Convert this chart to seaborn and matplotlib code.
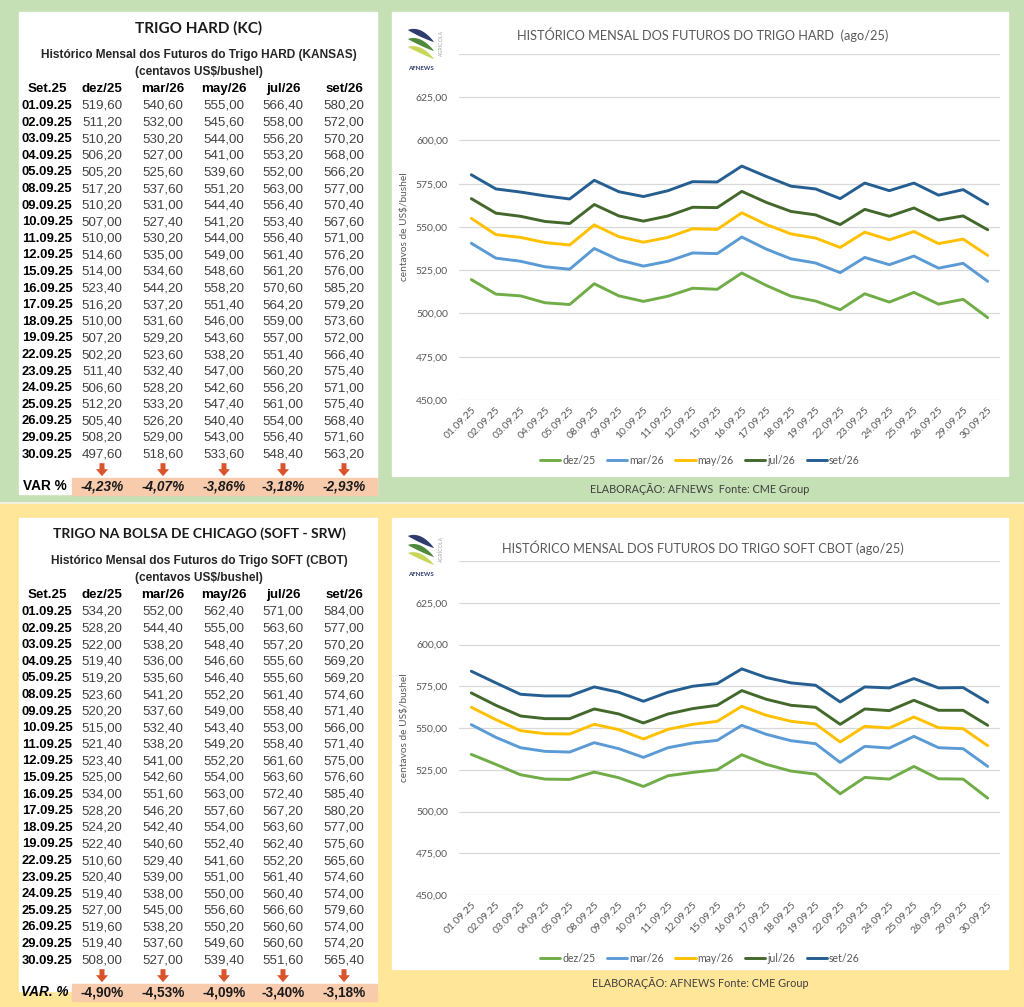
import numpy as np
import pandas as pd
import matplotlib
matplotlib.use("Agg")
import matplotlib.pyplot as plt
import matplotlib.patches as mpatches
import seaborn as sns

# ---- data ----
datas = ["01.09.25", "02.09.25", "03.09.25", "04.09.25", "05.09.25", "08.09.25",
         "09.09.25", "10.09.25", "11.09.25", "12.09.25", "15.09.25", "16.09.25",
         "17.09.25", "18.09.25", "19.09.25", "22.09.25", "23.09.25", "24.09.25",
         "25.09.25", "26.09.25", "29.09.25", "30.09.25"]
contratos = ["dez/25", "mar/26", "may/26", "jul/26", "set/26"]

hard_dez25 = [519.6, 511.2, 510.2, 506.2, 505.2, 517.2, 510.2, 507.0, 510.0, 514.6, 514.0,
              523.4, 516.2, 510.0, 507.2, 502.2, 511.4, 506.6, 512.2, 505.4, 508.2, 497.6]
hard_mar26 = [540.6, 532.0, 530.2, 527.0, 525.6, 537.6, 531.0, 527.4, 530.2, 535.0, 534.6,
              544.2, 537.2, 531.6, 529.2, 523.6, 532.4, 528.2, 533.2, 526.2, 529.0, 518.6]
hard_may26 = [555.0, 545.6, 544.0, 541.0, 539.6, 551.2, 544.4, 541.2, 544.0, 549.0, 548.6,
              558.2, 551.4, 546.0, 543.6, 538.2, 547.0, 542.6, 547.4, 540.4, 543.0, 533.6]
hard_jul26 = [566.4, 558.0, 556.2, 553.2, 552.0, 563.0, 556.4, 553.4, 556.4, 561.4, 561.2,
              570.6, 564.2, 559.0, 557.0, 551.4, 560.2, 556.2, 561.0, 554.0, 556.4, 548.4]
hard_set26 = [580.2, 572.0, 570.2, 568.0, 566.2, 577.0, 570.4, 567.6, 571.0, 576.2, 576.0,
              585.2, 579.2, 573.6, 572.0, 566.4, 575.4, 571.0, 575.4, 568.4, 571.6, 563.2]
hard_var = [-4.23, -4.07, -3.86, -3.18, -2.93]

soft_dez25 = [534.2, 528.2, 522.0, 519.4, 519.2, 523.6, 520.2, 515.0, 521.4, 523.4, 525.0,
              534.0, 528.2, 524.2, 522.4, 510.6, 520.4, 519.4, 527.0, 519.6, 519.4, 508.0]
soft_mar26 = [552.0, 544.4, 538.2, 536.0, 535.6, 541.2, 537.6, 532.4, 538.2, 541.0, 542.6,
              551.6, 546.2, 542.4, 540.6, 529.4, 539.0, 538.0, 545.0, 538.2, 537.6, 527.0]
soft_may26 = [562.4, 555.0, 548.4, 546.6, 546.4, 552.2, 549.0, 543.4, 549.2, 552.2, 554.0,
              563.0, 557.6, 554.0, 552.4, 541.6, 551.0, 550.0, 556.6, 550.2, 549.6, 539.4]
soft_jul26 = [571.0, 563.6, 557.2, 555.6, 555.6, 561.4, 558.4, 553.0, 558.4, 561.6, 563.6,
              572.4, 567.2, 563.6, 562.4, 552.2, 561.4, 560.4, 566.6, 560.6, 560.6, 551.6]
soft_set26 = [584.0, 577.0, 570.2, 569.2, 569.2, 574.6, 571.4, 566.0, 571.4, 575.0, 576.6,
              585.4, 580.2, 577.0, 575.6, 565.6, 574.6, 574.0, 579.6, 574.0, 574.2, 565.4]
soft_var = [-4.90, -4.53, -4.09, -3.40, -3.18]

y_ticks = [450, 475, 500, 525, 550, 575, 600, 625, 650]

hard = [hard_dez25, hard_mar26, hard_may26, hard_jul26, hard_set26]
soft = [soft_dez25, soft_mar26, soft_may26, soft_jul26, soft_set26]

cores = {"dez/25": "#70ad47", "mar/26": "#5b9bd5", "may/26": "#ffc000",
         "jul/26": "#43682b", "set/26": "#255e91"}

TAB_FONT = "Liberation Sans"
CHART_FONT = "Lato"


def br(v):
    return f"{v:.2f}".replace(".", ",")


def long_df(series):
    rows = []
    for nome, vals in zip(contratos, series):
        for d, v in zip(datas, vals):
            rows.append({"data": d, "valor": v, "contrato": nome})
    return pd.DataFrame(rows)


sns.set_theme(style="white")
plt.rcParams["font.family"] = [CHART_FONT, "DejaVu Sans"]

W, H = 1024, 1007
fig = plt.figure(figsize=(W / 100, H / 100), dpi=100)

# background canvas in pixel coordinates
bg = fig.add_axes([0, 0, 1, 1], zorder=0)
bg.set_xlim(0, W)
bg.set_ylim(H, 0)
bg.axis("off")

bg.add_patch(mpatches.Rectangle((0, 0), W, 503, color="#c5e0b4"))
bg.add_patch(mpatches.Rectangle((0, 503), W, H - 503, color="#ffe699"))
bg.plot([0, W], [503, 503], color="#f1f1e0", lw=1.5)

# white panels
bg.add_patch(mpatches.Rectangle((19, 12), 358, 482, color="white"))
bg.add_patch(mpatches.Rectangle((392, 12), 616, 464, color="white"))
bg.add_patch(mpatches.Rectangle((19, 518), 358, 473, color="white"))
bg.add_patch(mpatches.Rectangle((392, 518), 616, 451, color="white"))


def draw_table(top, titulo, tsize, subtitulo, series, var, var_label, var_italic,
               label_italic):
    col_x = [102, 163, 224, 283, 344]
    bg.text(199, top + 16, titulo, ha="center", va="center", fontsize=tsize,
            fontweight="bold", family=CHART_FONT, color="#1a1a1a")
    bg.text(199, top + 43, subtitulo, ha="center", va="center", fontsize=8.6,
            fontweight="bold", family=TAB_FONT, color="#262626")
    bg.text(199, top + 60, "(centavos US$/bushel)", ha="center", va="center",
            fontsize=8.6, fontweight="bold", family=TAB_FONT, color="#262626")
    hy = top + 77
    bg.text(47, hy, "Set.25", ha="center", va="center", fontsize=9.6,
            fontweight="bold", family=TAB_FONT, color="black")
    for cx, nome in zip(col_x, contratos):
        bg.text(cx, hy, nome, ha="center", va="center", fontsize=9.6,
                fontweight="bold", family=TAB_FONT, color="black")
    step = 16.6
    for i, d in enumerate(datas):
        y = hy + 17 + i * step
        bg.text(22, y, d, ha="left", va="center", fontsize=9.4, fontweight="bold",
                family=TAB_FONT, color="black")
        for cx, vals in zip(col_x, series):
            bg.text(cx, y, br(vals[i]), ha="center", va="center", fontsize=9.6,
                    family=TAB_FONT, color="#404040")
    ya = hy + 17 + len(datas) * step
    for cx in col_x:
        bg.add_patch(mpatches.FancyArrow(cx, ya - 8, 0, 13, width=5, head_width=12,
                                         head_length=7, length_includes_head=True,
                                         color="#d9532b", lw=0))
    yv = ya + 15
    bg.add_patch(mpatches.Rectangle((72, yv - 8.5), 305, 17, color="#f8cbad"))
    bg.text(45, yv, var_label, ha="center", va="center", fontsize=9.8,
            fontweight="bold", style="italic" if label_italic else "normal",
            family=TAB_FONT, color="black")
    for cx, v in zip(col_x, var):
        bg.text(cx, yv, br(v) + "%", ha="center", va="center", fontsize=9.8,
                fontweight="bold", style="italic" if var_italic else "normal",
                family=TAB_FONT, color="#1a1a1a")


draw_table(12, "TRIGO HARD (KC)", 11,
           "Histórico Mensal dos Futuros do Trigo HARD (KANSAS)",
           hard, hard_var, "VAR %", True, False)
draw_table(518, "TRIGO NA BOLSA DE CHICAGO (SOFT - SRW)", 10,
           "Histórico Mensal dos Futuros do Trigo SOFT (CBOT)",
           soft, soft_var, "VAR. %", False, True)


def draw_logo(x0, y0):
    # three tapered leaves, navy / green / lime
    t = np.linspace(0, 1, 40)
    leaves = [("#2f3c6e", 0, 3.2), ("#4f8a3c", 9, 3.0), ("#c9d65a", 17, 2.8)]
    for col, dy, w in leaves:
        cx = x0 + 2 + 26 * t
        cy = y0 + dy + 4 + 12 * t - 9 * t * (1 - t)
        hw = w * np.sin(np.pi * t) ** 0.8
        xs = np.concatenate([cx, cx[::-1]])
        ys = np.concatenate([cy - hw, (cy + hw)[::-1]])
        bg.add_patch(mpatches.Polygon(np.column_stack([xs, ys]), closed=True,
                                      color=col, lw=0))
    bg.text(x0 + 15, y0 + 42, "AFNEWS", ha="center", va="center", fontsize=4.4,
            fontweight="bold", color="#2f3c6e")
    bg.text(x0 + 35, y0 + 17, "AGRÍCOLA", ha="center", va="center", fontsize=3.8,
            rotation=90, color="#a6a6a6")


draw_logo(406, 26)
draw_logo(406, 532)


def draw_chart(rect, series, titulo, title_y, legend_y, caption, caption_y):
    ax = fig.add_axes(rect, zorder=2)
    ax.set_facecolor("none")
    df = long_df(series)
    sns.lineplot(data=df, x="data", y="valor", hue="contrato", palette=cores,
                 hue_order=contratos, sort=False, linewidth=2.1, ax=ax)
    ax.set_xlim(-0.5, len(datas) - 0.5)
    ax.set_ylim(y_ticks[0], y_ticks[-1])
    ax.set_yticks(y_ticks)
    ax.set_yticklabels([br(v) for v in y_ticks[:-1]] + [""])
    ax.set_xticks(range(len(datas)))
    ax.set_xticklabels(datas, rotation=45, ha="right", va="top", rotation_mode="anchor")
    ax.grid(axis="y", color="#d9d9d9", lw=0.9)
    ax.set_axisbelow(True)
    for s in ax.spines.values():
        s.set_visible(False)
    ax.tick_params(axis="both", length=0, labelsize=7.5, colors="#595959")
    ax.tick_params(axis="y", pad=8)
    ax.tick_params(axis="x", pad=4)
    ax.set_xlabel("")
    ax.set_ylabel("centavos de US$/bushel", fontsize=7.3, color="#595959")
    ax.yaxis.set_label_coords(-0.092, 0.5)
    handles, labels = ax.get_legend_handles_labels()
    ax.legend(handles, labels, loc="center", ncol=5, frameon=False, fontsize=7.6,
              handlelength=1.9, handletextpad=0.2, columnspacing=1.1,
              labelcolor="#595959",
              bbox_to_anchor=(700 / W, 1 - legend_y / H), bbox_transform=fig.transFigure)
    bg.text(703, title_y, titulo, ha="center", va="center", fontsize=9.2, color="#595959")
    bg.text(700, caption_y, caption, ha="center", va="center", fontsize=7.8,
            color="#404040")
    return ax


draw_chart([459 / W, 1 - 400 / H, 541 / W, 346 / H], hard,
           "HISTÓRICO MENSAL DOS FUTUROS DO TRIGO HARD  (ago/25)", 35, 460,
           "ELABORAÇÃO: AFNEWS  Fonte: CME Group", 489)
draw_chart([459 / W, 1 - 895 / H, 541 / W, 334 / H], soft,
           "HISTÓRICO MENSAL DOS FUTUROS DO TRIGO SOFT CBOT (ago/25)", 548, 958,
           "ELABORAÇÃO: AFNEWS Fonte: CME Group", 983)

fig.savefig("out.png", dpi=100)
